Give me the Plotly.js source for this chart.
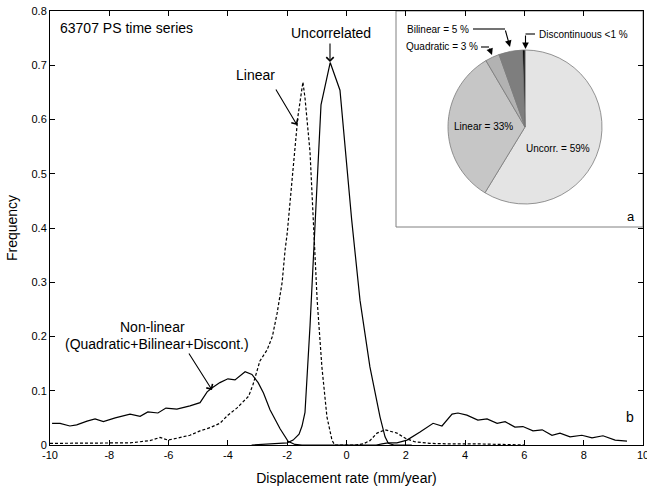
<!DOCTYPE html>
<html>
<head>
<meta charset="utf-8">
<script src="https://cdn.plot.ly/plotly-3.0.1.min.js"></script>
<style>html,body{margin:0;padding:0;background:#fff;}#chart{width:647px;height:492px;}</style>
</head>
<body>
<div id="chart"></div>
<script>
// ---- data ----
const uncorrX = [-3.2, -2.8, -2.4, -2.0, -1.8, -1.6, -1.5, -1.4, -1.23, -1.06, -0.86, -0.55, -0.22, 0.175, 0.455, 0.79, 1.13, 1.3, 1.41, 1.6, 2.2];
const uncorrY = [0, 0.001, 0.002, 0.004, 0.009, 0.02, 0.035, 0.06, 0.22, 0.42, 0.627, 0.705, 0.654, 0.415, 0.267, 0.144, 0.052, 0.015, 0.003, 0, 0];

const linearX = [-10, -9, -8, -7.3, -6.96, -6.63, -6.29, -6.02, -5.6, -5.28, -4.94, -4.6, -4.27, -4.0, -3.7, -3.5, -3.3, -3.15, -2.92, -2.68, -2.5, -2.34, -2.17, -2.07, -2.0, -1.8, -1.64, -1.47, -1.4, -1.23, -1.13, -0.99, -0.83, -0.66, -0.49, -0.4, 0.3, 0.56, 0.79, 1.03, 1.3, 1.7, 2.0, 2.3, 2.8, 3.5, 4.5, 5.5, 6.0];
const linearY = [0.003, 0.003, 0.003, 0.004, 0.006, 0.008, 0.014, 0.009, 0.014, 0.018, 0.026, 0.032, 0.04, 0.055, 0.068, 0.08, 0.09, 0.112, 0.155, 0.175, 0.2, 0.243, 0.3, 0.36, 0.39, 0.51, 0.605, 0.669, 0.64, 0.54, 0.43, 0.267, 0.144, 0.052, 0.009, 0, 0, 0.002, 0.008, 0.022, 0.028, 0.022, 0.012, 0.006, 0.003, 0.002, 0.002, 0.001, 0];

const nonlinX = [-9.93, -9.66, -9.33, -9.1, -8.75, -8.48, -8.2, -7.8, -7.3, -6.96, -6.7, -6.36, -6.09, -5.72, -5.28, -4.94, -4.7, -4.54, -4.27, -4.0, -3.76, -3.42, -3.19, -2.98, -2.8, -2.58, -2.24, -1.97, -1.74, -1.5, -1, 0, 1, 1.2, 1.4, 1.7, 2.04, 2.48, 2.92, 3.22, 3.56, 3.76, 4.06, 4.43, 4.74, 5.08, 5.35, 5.68, 5.95, 6.29, 6.6, 6.93, 7.2, 7.54, 7.94, 8.28, 8.65, 9.06, 9.46];
const nonlinY = [0.040, 0.040, 0.035, 0.037, 0.044, 0.048, 0.043, 0.050, 0.057, 0.053, 0.061, 0.059, 0.068, 0.066, 0.072, 0.078, 0.098, 0.105, 0.115, 0.122, 0.120, 0.135, 0.130, 0.115, 0.096, 0.065, 0.030, 0.007, 0.001, 0, 0, 0, 0, 0.002, 0.004, 0.004, 0.009, 0.024, 0.040, 0.035, 0.057, 0.059, 0.055, 0.046, 0.048, 0.040, 0.043, 0.033, 0.034, 0.026, 0.028, 0.018, 0.022, 0.015, 0.018, 0.013, 0.017, 0.009, 0.007];

const pieLabels = ['Uncorr.', 'Linear', 'Quadratic', 'Bilinear', 'Discontinuous'];
const pieValues = [59, 33, 3, 5, 0.5];
const pieColors = ['#e4e4e4', '#c6c6c6', '#b2b2b2', '#7e7e7e', '#000000'];

const xTickVals = [-10, -8, -6, -4, -2, 0, 2, 4, 6, 8, 10];
const xTickText = ['-10', '-8', '-6', '-4', '-2', '0', '2', '4', '6', '8', '10'];
const yTickVals = [0, 0.1, 0.2, 0.3, 0.4, 0.5, 0.6, 0.7, 0.8];
const yTickText = ['0', '0.1', '0.2', '0.3', '0.4', '0.5', '0.6', '0.7', '0.8'];

// ---- layout helpers (pixel -> paper) ----
const W = 647, H = 492, L = 50, R = 4, T = 11, B = 47;
const PW = W - L - R, PH = H - T - B;
const px = v => (v - L) / PW;
const py = v => (H - B - v) / PH;

const FONT = 'Arial, "Liberation Sans", sans-serif';
const lineW = 1.2;

const traces = [
  {x: nonlinX, y: nonlinY, type: 'scatter', mode: 'lines', line: {color: '#000', width: lineW}, hoverinfo: 'skip'},
  {x: linearX, y: linearY, type: 'scatter', mode: 'lines', line: {color: '#000', width: lineW, dash: '3px,2px'}, hoverinfo: 'skip'},
  {x: uncorrX, y: uncorrY, type: 'scatter', mode: 'lines', line: {color: '#000', width: lineW}, hoverinfo: 'skip'},
  {type: 'pie', labels: pieLabels, values: pieValues, sort: false, direction: 'clockwise', rotation: 0,
   marker: {colors: pieColors, line: {color: '#7a7a7a', width: 0.8}}, textinfo: 'none', hoverinfo: 'skip',
   showlegend: false,
   domain: {x: [px(448), px(602)], y: [py(204), py(50)]}}
];

const txt = (text, x, y, size, extra) => Object.assign({text, x, y, xref: 'paper', yref: 'paper', showarrow: false,
  font: {family: FONT, size: size, color: '#000'}, xanchor: 'center', yanchor: 'middle'}, extra || {});

const annotations = [
  txt('63707 PS time series', px(58), py(28), 14, {xanchor: 'left'}),
  txt('Uncorrelated', px(331), py(33), 14),
  txt('Linear', px(255), py(75), 14),
  txt('Non-linear', px(152), py(327), 14),
  txt('(Quadratic+Bilinear+Discont.)', px(157), py(344), 14),
  txt('b', px(630), py(417), 14),
  txt('a', px(631), py(216), 13),
  txt('Linear = 33%', px(483), py(126), 10),
  txt('Uncorr. = 59%', px(558), py(148), 10),
  txt('Bilinear = 5 %', px(438), py(29), 10),
  txt('Quadratic = 3 %', px(441.5), py(47), 10),
  txt('Discontinuous <1 %', px(583.5), py(34), 10),
  // main arrows (open heads)
  {x: px(330), y: py(62), ax: 0, ay: -20, xref: 'paper', yref: 'paper', text: '', showarrow: true, arrowhead: 4, arrowsize: 1.3, arrowwidth: 1.1, arrowcolor: '#000'},
  {x: px(297), y: py(125), ax: -22, ay: -37, xref: 'paper', yref: 'paper', text: '', showarrow: true, arrowhead: 4, arrowsize: 1.3, arrowwidth: 1.1, arrowcolor: '#000'},
  {x: px(212), y: py(390), ax: -24, ay: -38, xref: 'paper', yref: 'paper', text: '', showarrow: true, arrowhead: 4, arrowsize: 1.3, arrowwidth: 1.1, arrowcolor: '#000'},
  // pie arrows (filled heads)
  {x: px(510), y: py(47), ax: -5, ay: -18, xref: 'paper', yref: 'paper', text: '', showarrow: true, arrowhead: 2, arrowsize: 1.2, arrowwidth: 1.1, arrowcolor: '#000'},
  {x: px(492), y: py(55), ax: -3, ay: -8, xref: 'paper', yref: 'paper', text: '', showarrow: true, arrowhead: 2, arrowsize: 1.2, arrowwidth: 1.1, arrowcolor: '#000'},
  {x: px(525.5), y: py(49), ax: 0, ay: -15, xref: 'paper', yref: 'paper', text: '', showarrow: true, arrowhead: 2, arrowsize: 1.2, arrowwidth: 1.1, arrowcolor: '#000'}
];

const shapes = [
  {type: 'rect', xref: 'paper', yref: 'paper', x0: px(396), x1: 1, y0: py(227), y1: 1, fillcolor: '#fff', line: {color: '#808080', width: 1}, layer: 'below'},
  {type: 'line', xref: 'paper', yref: 'paper', x0: px(473), x1: px(505), y0: py(29), y1: py(29), line: {color: '#000', width: 1.1}},
  {type: 'line', xref: 'paper', yref: 'paper', x0: px(481), x1: px(489), y0: py(47), y1: py(47), line: {color: '#000', width: 1.1}},
  {type: 'line', xref: 'paper', yref: 'paper', x0: px(535), x1: px(525.5), y0: py(34), y1: py(34), line: {color: '#000', width: 1.1}}
];

const axisCommon = {showline: true, linecolor: '#000', linewidth: 1, mirror: 'allticks', ticks: 'inside', ticklen: 5,
  tickcolor: '#000', tickwidth: 1, showgrid: false, zeroline: false, tickmode: 'array', ticklabeloverflow: 'allow',
  tickfont: {family: FONT, size: 11, color: '#000'}};

const layout = {
  width: W, height: H,
  margin: {l: L, r: R, t: T, b: B, pad: 0},
  paper_bgcolor: '#fff', plot_bgcolor: 'rgba(0,0,0,0)',
  showlegend: false,
  xaxis: Object.assign({}, axisCommon, {range: [-10, 10], tickvals: xTickVals, ticktext: xTickText,
    title: {text: 'Displacement rate (mm/year)', font: {family: FONT, size: 14, color: '#000'}, standoff: 12}}),
  yaxis: Object.assign({}, axisCommon, {range: [0, 0.8], tickvals: yTickVals, ticktext: yTickText,
    title: {text: 'Frequency', font: {family: FONT, size: 14, color: '#000'}, standoff: 10}}),
  annotations, shapes
};

Plotly.newPlot('chart', traces, layout, {staticPlot: true, displayModeBar: false});
</script>
</body>
</html>
